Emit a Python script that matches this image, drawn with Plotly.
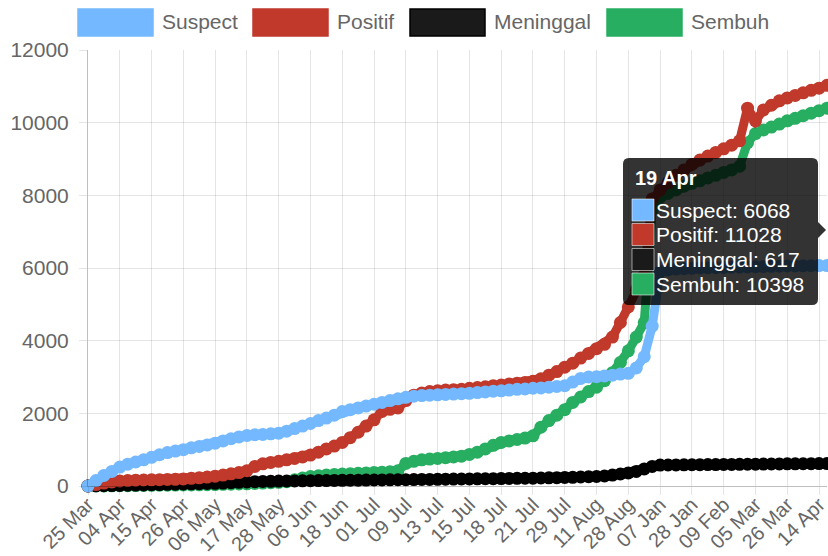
import plotly.graph_objects as go

# ---------------- data ----------------
dates = [
    "25 Mar", "28 Mar", "30 Mar", "02 Apr",
    "04 Apr", "07 Apr", "10 Apr", "12 Apr",
    "15 Apr", "18 Apr", "21 Apr", "23 Apr",
    "26 Apr", "29 Apr", "01 May", "04 May",
    "06 May", "09 May", "12 May", "14 May",
    "17 May", "20 May", "23 May", "25 May",
    "28 May", "30 May", "02 Jun", "04 Jun",
    "06 Jun", "09 Jun", "12 Jun", "15 Jun",
    "18 Jun", "21 Jun", "24 Jun", "28 Jun",
    "01 Jul", "03 Jul", "05 Jul", "07 Jul",
    "09 Jul", "10 Jul", "11 Jul", "12 Jul",
    "13 Jul", "13 Jul", "14 Jul", "14 Jul",
    "15 Jul", "16 Jul", "16 Jul", "17 Jul",
    "18 Jul", "19 Jul", "20 Jul", "20 Jul",
    "21 Jul", "23 Jul", "25 Jul", "27 Jul",
    "29 Jul", "01 Aug", "05 Aug", "08 Aug",
    "11 Aug", "15 Aug", "20 Aug", "24 Aug",
    "28 Aug", "31 Aug", "03 Sep", "29 Dec",
    "07 Jan", "12 Jan", "18 Jan", "23 Jan",
    "28 Jan", "31 Jan", "03 Feb", "06 Feb",
    "09 Feb", "15 Feb", "21 Feb", "27 Feb",
    "05 Mar", "10 Mar", "16 Mar", "21 Mar",
    "26 Mar", "31 Mar", "05 Apr", "09 Apr",
    "14 Apr", "19 Apr",
]

suspect = [
    0, 150, 290, 400, 520, 600, 660, 720, 790, 860,
    920, 960, 1000, 1050, 1090, 1130, 1180, 1240, 1300, 1350,
    1390, 1410, 1420, 1435, 1455, 1510, 1580, 1650, 1720, 1800,
    1870, 1950, 2050, 2100, 2150, 2200, 2250, 2300, 2350, 2400,
    2440, 2470, 2490, 2500, 2510, 2520, 2530, 2540, 2550, 2570,
    2590, 2610, 2620, 2640, 2660, 2670, 2690, 2700, 2720, 2740,
    2760, 2860, 2960, 3000, 3010, 3030, 3050, 3080, 3100, 3250,
    3560, 4400, 5900, 5950, 5970, 5980, 5990, 6000, 6005, 6010,
    6015, 6020, 6025, 6030, 6035, 6040, 6045, 6050, 6055, 6058,
    6061, 6064, 6066, 6068,
]

positif = [
    0, 40, 80, 110, 140, 150, 160, 165, 170, 175,
    180, 185, 195, 210, 225, 245, 270, 300, 335, 370,
    420, 540, 610, 650, 680, 720, 760, 800, 850, 930,
    1020, 1100, 1200, 1330, 1480, 1650, 1820, 2050, 2110, 2150,
    2350, 2500, 2560, 2600, 2620, 2640, 2650, 2660, 2690, 2710,
    2730, 2760, 2780, 2810, 2830, 2850, 2880, 2950, 3050, 3150,
    3270, 3380, 3520, 3650, 3780, 3900, 4100, 4500, 4930, 5400,
    5800, 7900, 8150, 8350, 8550, 8700, 8850, 8970, 9080, 9180,
    9280, 9380, 9500, 10400, 10050, 10350, 10480, 10600, 10680, 10750,
    10820, 10890, 10950, 11028,
]

meninggal = [
    0, 5, 8, 12, 15, 20, 25, 30, 35, 40,
    45, 50, 55, 60, 65, 70, 75, 80, 90, 100,
    110, 120, 125, 130, 135, 138, 140, 143, 145, 148,
    150, 153, 155, 158, 160, 163, 165, 168, 170, 172,
    175, 178, 180, 182, 185, 187, 190, 192, 195, 197,
    200, 202, 205, 208, 210, 213, 215, 220, 225, 230,
    235, 240, 248, 255, 262, 275, 300, 330, 360, 400,
    470, 540, 575, 578, 580, 582, 585, 587, 589, 591,
    593, 595, 597, 599, 601, 603, 605, 607, 609, 611,
    613, 615, 616, 617,
]

sembuh = [
    0, 0, 2, 5, 8, 10, 12, 15, 18, 20,
    22, 25, 28, 30, 33, 36, 40, 45, 50, 55,
    60, 70, 80, 90, 100, 120, 170, 220, 260, 280,
    300, 315, 330, 340, 350, 360, 370, 380, 390, 420,
    620, 680, 720, 740, 760, 780, 800, 820, 870, 930,
    1020, 1120, 1200, 1240, 1280, 1320, 1380, 1620, 1800, 1950,
    2100, 2300, 2450, 2600, 2720, 2900, 3120, 3400, 3720, 4100,
    4500, 7600, 7950, 8050, 8150, 8250, 8330, 8400, 8480, 8550,
    8630, 8700, 8800, 9450, 9700, 9800, 9880, 9960, 10050, 10120,
    10190, 10260, 10330, 10398,
]

series_names = ["Suspect", "Positif", "Meninggal", "Sembuh"]
series_values = [suspect, positif, meninggal, sembuh]
series_colors = ["#74b9ff", "#c0392b", "#000000", "#27ae60"]
legend_fill = ["#74b9ff", "#c0392b", "#1a1a1a", "#27ae60"]

y_ticks = [0, 2000, 4000, 6000, 8000, 10000, 12000]
label_step = 4
x_idx = list(range(len(dates)))
tick_idx = x_idx[::label_step]
tick_text = [dates[i] for i in tick_idx]

# ---------------- figure ----------------
FONT = "Arial, Liberation Sans, Helvetica, sans-serif"
FS = 21
W_FIG, H_FIG = 828, 556
ML, MR, MT, MB = 88, 1, 50, 70
PW = W_FIG - ML - MR
PH = H_FIG - MT - MB


def px(x):
    return (x - ML) / PW


def py(y):
    return (H_FIG - MB - y) / PH


fig = go.Figure()

# Chart.js draws the first dataset on top -> add in reverse
for name, vals, col in reversed(list(zip(series_names, series_values, series_colors))):
    fig.add_trace(go.Scatter(
        x=x_idx, y=vals, name=name, mode="lines+markers",
        line=dict(color=col, width=9),
        marker=dict(color=col, size=13, line=dict(width=0)),
        customdata=dates,
        hovertemplate="%{customdata}<br>" + name + ": %{y}<extra></extra>",
        cliponaxis=False, showlegend=False,
    ))

grid = "rgba(0,0,0,0.1)"
axis = "rgba(0,0,0,0.25)"

fig.update_layout(
    width=W_FIG, height=H_FIG, autosize=False,
    margin=dict(l=ML, r=MR, t=MT, b=MB, pad=0),
    paper_bgcolor="white", plot_bgcolor="white",
    font=dict(family=FONT, size=FS, color="#666"),
    showlegend=False,
    hovermode="x",
    xaxis=dict(
        range=[0, len(dates) - 1], tickmode="array",
        tickvals=tick_idx, ticktext=tick_text, tickangle=-45,
        showgrid=True, gridcolor=grid, gridwidth=1,
        ticks="outside", ticklen=8, tickcolor=grid,
        showline=True, linecolor=axis, linewidth=1,
        zeroline=False, tickfont=dict(size=20, color="#666"),
        ticklabelstandoff=-10, ticklabeloverflow="allow",
        fixedrange=True, automargin=False,
    ),
    yaxis=dict(
        range=[0, 12000], tickmode="array", tickvals=y_ticks,
        tickformat="d",
        showgrid=True, gridcolor=grid, gridwidth=1,
        ticks="outside", ticklen=8, tickcolor=grid,
        showline=True, linecolor=axis, linewidth=1,
        zeroline=False, tickfont=dict(size=FS, color="#666"),
        ticklabelstandoff=6, fixedrange=True, automargin=False,
    ),
)

shapes = []
annotations = []

# ---- manual legend (Chart.js style boxes) ----
legend_box_x = [78, 253, 410, 607]
for name, col, fill, bx in zip(series_names, series_colors, legend_fill, legend_box_x):
    shapes.append(dict(
        type="rect", xref="paper", yref="paper",
        x0=px(bx), x1=px(bx + 75), y0=py(36), y1=py(9),
        fillcolor=fill, line=dict(color=col, width=1.5), layer="above",
    ))
    annotations.append(dict(
        xref="paper", yref="paper", x=px(bx + 82), y=py(22),
        xanchor="left", yanchor="middle", showarrow=False,
        text=name, font=dict(family=FONT, size=FS, color="#666"),
    ))

# ---- static tooltip for the last point ----
tx0, tx1, ty0, ty1, r = 623, 818, 158, 305, 6
path = (
    f"M {px(tx0 + r)} {py(ty0)} "
    f"L {px(tx1 - r)} {py(ty0)} Q {px(tx1)} {py(ty0)} {px(tx1)} {py(ty0 + r)} "
    f"L {px(tx1)} {py(222)} L {px(tx1 + 8)} {py(230)} L {px(tx1)} {py(238)} "
    f"L {px(tx1)} {py(ty1 - r)} Q {px(tx1)} {py(ty1)} {px(tx1 - r)} {py(ty1)} "
    f"L {px(tx0 + r)} {py(ty1)} Q {px(tx0)} {py(ty1)} {px(tx0)} {py(ty1 - r)} "
    f"L {px(tx0)} {py(ty0 + r)} Q {px(tx0)} {py(ty0)} {px(tx0 + r)} {py(ty0)} Z"
)
shapes.append(dict(type="path", xref="paper", yref="paper", path=path,
                   fillcolor="rgba(0,0,0,0.8)", line=dict(width=0), layer="above"))

annotations.append(dict(
    xref="paper", yref="paper", x=px(633), y=py(178),
    xanchor="left", yanchor="middle", showarrow=False,
    text="<b>" + dates[-1] + "</b>",
    font=dict(family=FONT, size=20, color="white"),
))
row_y = [210, 234.5, 259.5, 284]
for name, vals, fill, ry in zip(series_names, series_values, legend_fill, row_y):
    shapes.append(dict(
        type="rect", xref="paper", yref="paper",
        x0=px(632), x1=px(654), y0=py(ry + 11), y1=py(ry - 11),
        fillcolor=fill, line=dict(color="rgba(255,255,255,0.55)", width=1),
        layer="above",
    ))
    annotations.append(dict(
        xref="paper", yref="paper", x=px(654), y=py(ry),
        xanchor="left", yanchor="middle", showarrow=False,
        text=f"{name}: {vals[-1]}",
        font=dict(family=FONT, size=FS, color="white"),
    ))

fig.update_layout(shapes=shapes, annotations=annotations)

fig.write_html("out.html", config={"displayModeBar": False},
               post_script="document.body.style.margin='0';")
